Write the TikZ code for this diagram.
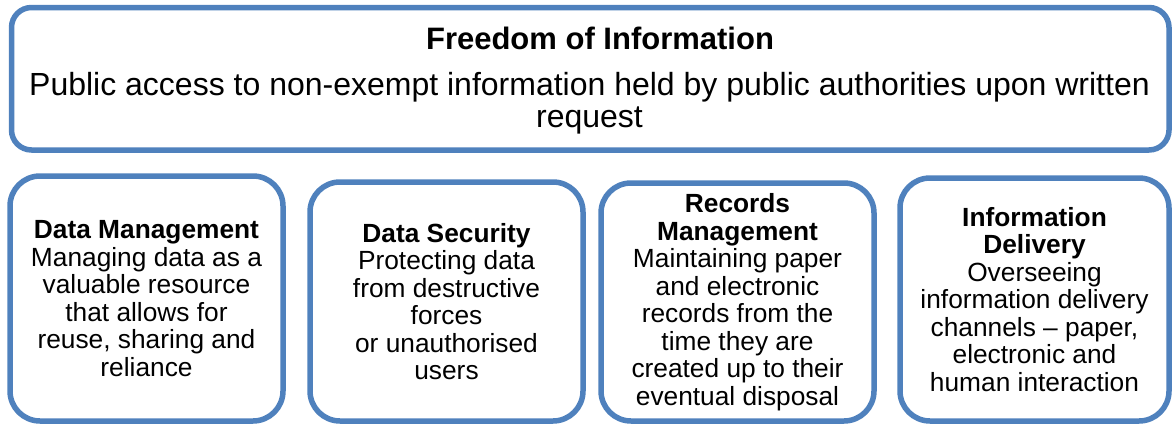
\documentclass[tikz,border=0pt]{standalone}
\usepackage{fontspec}
\setmainfont{Liberation Sans}
\usetikzlibrary{positioning}
\definecolor{boxblue}{HTML}{4F81BD}
\tikzset{
  frame/.style={draw=boxblue, line width=5.5pt, fill=white, rounded corners=20pt, inner sep=0pt},
  pillar/.style={frame, rounded corners=30pt, minimum width=273pt, align=center,
    font=\fontsize{26.3}{27.5}\selectfont},
}

\begin{document}
\begin{tikzpicture}[x=1pt, y=-1pt]
  \useasboundingbox (0,0) rectangle (1172,426);
  % top box
  \node[frame, minimum width=1157.5pt, minimum height=142.5pt] (foi) at (590.25,78.75) {};
  \node[anchor=base, font=\fontsize{31}{34}\selectfont\bfseries] (foititle) at (600,49) {Freedom of Information};
  \node[align=center, inner sep=0pt, font=\fontsize{32}{32}\selectfont] (foitext) at (589.5,103)
    {Public access to non-exempt information held by public authorities upon written\\request};
  % pillars
  \node[pillar, minimum height=245pt] (datamgmt) at (146.5,298.5)
    {\textbf{Data Management}\\Managing data as a\\valuable resource\\that allows for\\reuse, sharing and\\reliance};
  \node[pillar, minimum height=239pt] (datasec) at (446.5,301.5)
    {\textbf{Data Security}\\Protecting data\\from destructive\\forces\\or unauthorised\\users};
  \node[pillar, minimum height=238pt] (recmgmt) at (737.5,302)
    {\textbf{Records}\\\textbf{Management}\\Maintaining paper\\and electronic\\records from the\\time they are\\created up to their\\eventual disposal};
  \node[pillar, minimum width=269pt, minimum height=243pt] (infodel) at (1034.5,299.5)
    {\textbf{Information}\\\textbf{Delivery}\\Overseeing\\information delivery\\channels – paper,\\electronic and\\human interaction};
\end{tikzpicture}
\end{document}
